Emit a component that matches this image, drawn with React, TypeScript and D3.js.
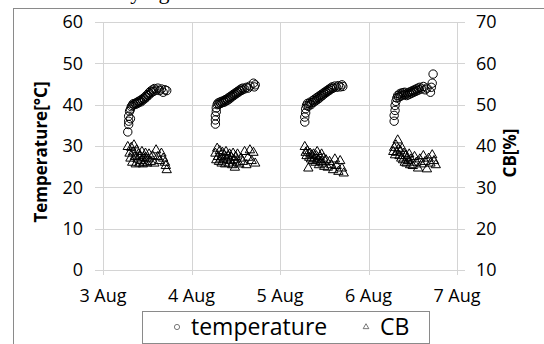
import { useEffect, useRef } from "react";
import * as d3 from "d3";

// day of August (with fraction), value
const temperature: [number, number][] = [
  [3.28, 33.4], [3.29, 35.2], [3.29, 36.0], [3.29, 37.2], [3.30, 38.4], [3.31, 36.6], [3.31, 38.9],
  [3.32, 39.5], [3.33, 39.8], [3.34, 40.2], [3.35, 40.0], [3.36, 40.3], [3.37, 40.1], [3.38, 40.5],
  [3.39, 40.3], [3.40, 40.8], [3.41, 40.6], [3.42, 41.0], [3.43, 40.7], [3.44, 41.3], [3.45, 41.1],
  [3.46, 41.6], [3.47, 41.4], [3.48, 42.0], [3.49, 41.8], [3.50, 42.4], [3.51, 42.2], [3.52, 42.9],
  [3.53, 42.6], [3.54, 43.3], [3.55, 43.0], [3.56, 43.6], [3.57, 43.2], [3.58, 43.9], [3.60, 43.5],
  [3.62, 44.0], [3.64, 43.4], [3.66, 43.8], [3.68, 43.0], [3.70, 43.6], [3.72, 43.4],
  [4.27, 35.3], [4.27, 36.3], [4.27, 37.3], [4.28, 38.3], [4.28, 39.2], [4.29, 40.0], [4.30, 40.4],
  [4.31, 40.1], [4.32, 40.6], [4.33, 40.3], [4.34, 40.8], [4.35, 40.5], [4.36, 40.9], [4.37, 40.6],
  [4.38, 41.2], [4.39, 40.9], [4.40, 41.4], [4.41, 41.1], [4.42, 41.7], [4.43, 41.4], [4.44, 42.0],
  [4.45, 41.8], [4.46, 42.3], [4.47, 42.1], [4.48, 42.6], [4.49, 42.4], [4.50, 42.9], [4.51, 42.7],
  [4.52, 43.2], [4.53, 43.0], [4.54, 43.5], [4.55, 43.3], [4.56, 43.8], [4.57, 43.5], [4.58, 44.0],
  [4.60, 43.8], [4.62, 44.2], [4.64, 44.0], [4.66, 44.5], [4.70, 45.2], [4.71, 44.3], [4.72, 44.8],
  [5.28, 35.8], [5.28, 37.0], [5.29, 38.0], [5.29, 39.0], [5.30, 39.8], [5.31, 40.3], [5.32, 39.6],
  [5.33, 40.2], [5.34, 40.6], [5.35, 40.0], [5.36, 40.5], [5.37, 41.0], [5.38, 40.6], [5.39, 41.3],
  [5.40, 40.9], [5.41, 41.6], [5.42, 41.2], [5.43, 41.9], [5.44, 41.5], [5.45, 42.2], [5.46, 41.9],
  [5.47, 42.5], [5.48, 42.2], [5.49, 42.8], [5.50, 42.6], [5.51, 43.1], [5.52, 42.9], [5.53, 43.4],
  [5.54, 43.2], [5.55, 43.7], [5.56, 43.5], [5.57, 44.0], [5.58, 43.8], [5.59, 44.3], [5.60, 44.0],
  [5.62, 44.5], [5.64, 44.2], [5.66, 44.6], [5.68, 44.3], [5.70, 44.8], [5.71, 44.4],
  [6.29, 36.0], [6.29, 37.4], [6.30, 38.6], [6.30, 39.8], [6.31, 40.8], [6.32, 41.6], [6.33, 42.2],
  [6.34, 41.8], [6.35, 42.6], [6.36, 42.0], [6.37, 42.8], [6.38, 42.3], [6.39, 42.9], [6.40, 42.4],
  [6.41, 43.0], [6.42, 42.5], [6.43, 42.2], [6.44, 42.8], [6.45, 42.4], [6.46, 43.0], [6.47, 42.6],
  [6.48, 43.2], [6.49, 42.8], [6.50, 43.4], [6.51, 43.0], [6.52, 43.6], [6.53, 43.2], [6.54, 43.8],
  [6.55, 43.4], [6.56, 44.0], [6.57, 43.6], [6.58, 44.2], [6.60, 43.8], [6.62, 44.4], [6.64, 43.6],
  [6.66, 44.0], [6.70, 43.0], [6.71, 44.2], [6.72, 45.2], [6.73, 47.4],
];

const cb: [number, number][] = [
  [3.28, 39.8], [3.30, 38.2], [3.31, 37.0], [3.32, 39.6], [3.33, 36.0], [3.34, 38.5], [3.35, 40.2],
  [3.36, 37.4], [3.37, 35.6], [3.38, 39.0], [3.39, 36.8], [3.40, 38.0], [3.41, 35.8], [3.42, 37.6],
  [3.43, 36.4], [3.44, 38.6], [3.45, 35.6], [3.46, 37.2], [3.47, 36.0], [3.48, 38.2], [3.49, 37.0],
  [3.50, 35.8], [3.51, 36.8], [3.52, 38.0], [3.54, 36.2], [3.56, 37.6], [3.58, 35.8], [3.60, 39.0],
  [3.62, 37.4], [3.64, 36.4], [3.66, 38.2], [3.68, 37.0], [3.70, 36.0], [3.71, 35.2], [3.72, 34.2],
  [4.27, 38.2], [4.28, 36.6], [4.29, 39.4], [4.30, 37.4], [4.31, 36.2], [4.32, 38.8], [4.33, 37.0],
  [4.34, 35.8], [4.35, 38.4], [4.36, 36.6], [4.37, 37.8], [4.38, 35.6], [4.39, 38.6], [4.40, 36.8],
  [4.41, 37.6], [4.42, 35.8], [4.43, 38.0], [4.44, 36.4], [4.45, 37.2], [4.46, 35.4], [4.47, 38.2],
  [4.48, 36.6], [4.49, 34.8], [4.50, 37.4], [4.51, 36.0], [4.52, 38.0], [4.54, 35.6], [4.56, 37.0],
  [4.58, 36.2], [4.60, 38.6], [4.62, 35.4], [4.64, 37.2], [4.66, 39.0], [4.68, 36.4], [4.70, 38.4],
  [4.72, 35.8],
  [5.28, 39.8], [5.29, 38.4], [5.30, 37.6], [5.31, 38.8], [5.32, 34.6], [5.33, 37.2], [5.34, 38.2],
  [5.35, 36.8], [5.36, 37.8], [5.37, 36.4], [5.38, 38.0], [5.39, 37.0], [5.40, 36.0], [5.41, 37.6],
  [5.42, 38.6], [5.43, 36.6], [5.44, 35.4], [5.45, 37.4], [5.46, 36.2], [5.47, 38.0], [5.48, 35.8],
  [5.49, 37.0], [5.50, 35.0], [5.52, 36.6], [5.54, 34.8], [5.56, 36.2], [5.58, 35.4], [5.60, 34.2],
  [5.62, 36.8], [5.64, 35.2], [5.66, 33.8], [5.68, 36.4], [5.70, 34.6], [5.72, 33.4],
  [6.28, 38.6], [6.29, 39.6], [6.30, 37.8], [6.31, 40.2], [6.32, 38.4], [6.33, 41.4], [6.34, 39.2],
  [6.35, 37.6], [6.36, 38.8], [6.37, 37.0], [6.38, 39.4], [6.39, 36.6], [6.40, 38.2], [6.41, 36.0],
  [6.42, 37.6], [6.43, 35.8], [6.44, 37.2], [6.45, 36.4], [6.46, 38.0], [6.47, 35.4], [6.48, 36.8],
  [6.50, 35.2], [6.52, 37.4], [6.54, 36.0], [6.56, 34.6], [6.58, 36.8], [6.60, 35.6], [6.62, 37.6],
  [6.64, 36.2], [6.66, 34.4], [6.68, 37.0], [6.70, 35.8], [6.72, 37.8], [6.74, 36.4], [6.76, 35.4],
];

const dayTicks = [3, 4, 5, 6, 7];
const dayLabels = ["3 Aug", "4 Aug", "5 Aug", "6 Aug", "7 Aug"];
const leftTicks = [0, 10, 20, 30, 40, 50, 60];
const rightTicks = [10, 20, 30, 40, 50, 60, 70];

const font = "'Open Sans', sans-serif";

export default function App() {
  const svgRef = useRef<SVGSVGElement>(null);

  useEffect(() => {
    const svg = d3.select(svgRef.current);
    svg.selectAll("*").remove();

    const left = 103, right = 457, top = 22, bottom = 270;

    const x = d3.scaleLinear().domain([3, 7]).range([left, right]);
    const yL = d3.scaleLinear().domain([0, 60]).range([bottom, top]);
    const yR = d3.scaleLinear().domain([10, 70]).range([bottom, top]);

    svg.append("rect").attr("width", 544).attr("height", 344).attr("fill", "#fff");

    // caption line above the figure, mostly cut off by the top edge
    svg.append("text")
      .attr("x", 255).attr("y", -1)
      .attr("text-anchor", "end")
      .style("font-family", "'Liberation Serif', serif")
      .style("font-size", "22px")
      .text("the drying machine.");

    // outer chart frame
    svg.append("rect")
      .attr("x", 13.5).attr("y", 8.5)
      .attr("width", 600).attr("height", 400)
      .attr("fill", "none").attr("stroke", "#8a8a8a");

    // grid
    svg.append("g").selectAll("line").data(leftTicks).join("line")
      .attr("x1", left - 8).attr("x2", right + 8)
      .attr("y1", d => Math.round(yL(d)) + 0.5).attr("y2", d => Math.round(yL(d)) + 0.5)
      .attr("stroke", "#d4d4d4");
    svg.append("g").selectAll("line").data(dayTicks).join("line")
      .attr("x1", d => Math.round(x(d)) + 0.5).attr("x2", d => Math.round(x(d)) + 0.5)
      .attr("y1", top).attr("y2", bottom + 5)
      .attr("stroke", "#d4d4d4");

    // tick labels
    svg.append("g").selectAll("text").data(leftTicks).join("text")
      .attr("x", 83).attr("y", d => yL(d))
      .attr("dy", "0.35em").attr("text-anchor", "end")
      .style("font-family", font).style("font-size", "18px")
      .text(d => d);
    svg.append("g").selectAll("text").data(rightTicks).join("text")
      .attr("x", 476).attr("y", d => yR(d))
      .attr("dy", "0.35em")
      .style("font-family", font).style("font-size", "18px")
      .text(d => d);
    svg.append("g").selectAll("text").data(dayTicks).join("text")
      .attr("x", d => x(d)).attr("y", 296)
      .attr("dy", "0.35em").attr("text-anchor", "middle")
      .style("font-family", font).style("font-size", "18px")
      .text((d, i) => dayLabels[i]);

    // axis titles
    svg.append("text")
      .attr("transform", `translate(41,${(top + bottom) / 2 + 6}) rotate(-90)`)
      .attr("text-anchor", "middle").attr("dy", "0.35em")
      .style("font-family", font).style("font-size", "17px").style("font-weight", "bold")
      .text("Temperature[°C]");
    svg.append("text")
      .attr("transform", `translate(510,${(top + bottom) / 2 + 7}) rotate(-90)`)
      .attr("text-anchor", "middle").attr("dy", "0.35em")
      .style("font-family", font).style("font-size", "17px").style("font-weight", "bold")
      .text("CB[%]");

    // points
    const tri = d3.symbol().type(d3.symbolTriangle).size(38);
    svg.append("g").selectAll("path").data(cb).join("path")
      .attr("d", tri)
      .attr("transform", d => `translate(${x(d[0])},${yR(d[1])})`)
      .attr("fill", "none").attr("stroke", "#000").attr("stroke-width", 1);
    svg.append("g").selectAll("circle").data(temperature).join("circle")
      .attr("cx", d => x(d[0])).attr("cy", d => yL(d[1]))
      .attr("r", 4.2)
      .attr("fill", "none").attr("stroke", "#000").attr("stroke-width", 1);

    // legend
    const lg = svg.append("g");
    lg.append("rect")
      .attr("x", 142.5).attr("y", 311.5).attr("width", 287).attr("height", 32)
      .attr("fill", "#fff").attr("stroke", "#8a8a8a");
    lg.append("circle").attr("cx", 177).attr("cy", 327).attr("r", 2.6)
      .attr("fill", "#fff").attr("stroke", "#555").attr("stroke-width", 0.8);
    lg.append("text").attr("x", 191).attr("y", 327).attr("dy", "0.35em")
      .style("font-family", font).style("font-size", "23px")
      .text("temperature");
    lg.append("path").attr("d", d3.symbol().type(d3.symbolTriangle).size(14))
      .attr("transform", "translate(366,327)")
      .attr("fill", "#fff").attr("stroke", "#555").attr("stroke-width", 0.8);
    lg.append("text").attr("x", 380).attr("y", 327).attr("dy", "0.35em")
      .style("font-family", font).style("font-size", "23px")
      .text("CB");
  }, []);

  return (
    <svg
      ref={svgRef}
      width={544}
      height={344}
      style={{ position: "absolute", left: 0, top: 0 }}
    />
  );
}
